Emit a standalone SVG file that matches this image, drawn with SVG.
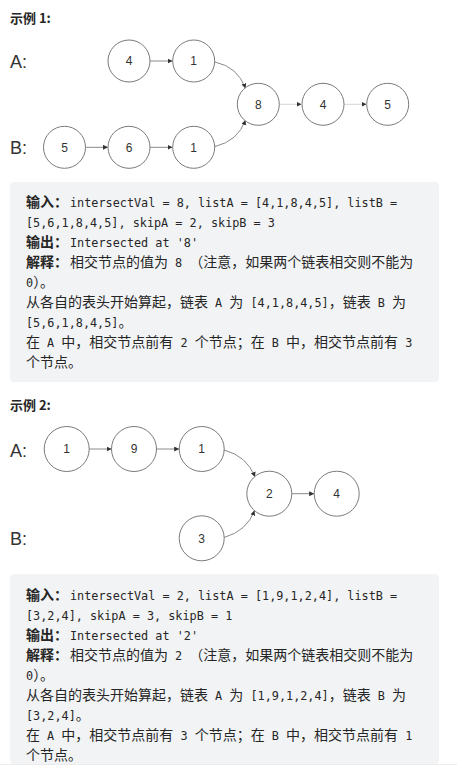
<svg xmlns="http://www.w3.org/2000/svg" width="457" height="774" viewBox="0 0 457 774">
<defs>
<style>
.bg{fill:#ffffff}
.box{fill:#f2f3f5}
.title{font-family:"Noto Sans CJK SC","Liberation Sans",sans-serif;font-size:13px;font-weight:bold;fill:#262626}
.lab{font-family:"Liberation Sans",Arial,sans-serif;font-size:18px;fill:#333333}
.node circle{fill:#ffffff;stroke:#7a7a7a;stroke-width:1}
.node text{font-family:"Liberation Sans",Arial,sans-serif;font-size:12px;fill:#333333;text-anchor:middle}
.edge{fill:none;stroke:#8a8a8a;stroke-width:1}
.faint{stroke:#d6d6d6}
.t{font-size:14px;fill:#262626;white-space:pre}
.c{font-family:"Noto Sans CJK SC","Liberation Sans",sans-serif;font-size:14px}
.b{font-family:"Noto Sans CJK SC","Liberation Sans",sans-serif;font-size:14px;font-weight:bold}
.m{font-family:"DejaVu Sans Mono","Liberation Mono",monospace;font-size:11.82px}
</style>
<marker id="ah" markerUnits="userSpaceOnUse" markerWidth="6" markerHeight="6" refX="5" refY="2.5" orient="auto">
<path d="M0,0 L5,2.5 L0,5 z" fill="#333333"/>
</marker>
</defs>
<rect class="bg" x="0" y="0" width="457" height="774"/>

<text class="title" x="10" y="22.5">示例 1:</text>
<text class="lab" x="10" y="67.7">A:</text>
<text class="lab" x="10" y="154.3">B:</text>

<g id="connectors1">
<line class="edge" x1="150" y1="61" x2="172.5" y2="61" marker-end="url(#ah)"/>
<line class="edge" x1="85.5" y1="147.3" x2="108" y2="147.3" marker-end="url(#ah)"/>
<line class="edge" x1="150" y1="147.3" x2="172.5" y2="147.3" marker-end="url(#ah)"/>
<line class="edge faint" x1="279.5" y1="104.3" x2="301.5" y2="104.3" marker-end="url(#ah)"/>
<line class="edge faint" x1="344" y1="104.3" x2="366.5" y2="104.3" marker-end="url(#ah)"/>
<path class="edge" d="M215,62 Q238,67 245.5,88.5" marker-end="url(#ah)"/>
<path class="edge" d="M215,146.5 Q238,141 245.5,120" marker-end="url(#ah)"/>
</g>

<g id="e1-a4" class="node"><circle cx="129" cy="61" r="21"/><text x="129" y="65.3">4</text></g>
<g id="e1-a1" class="node"><circle cx="193.7" cy="61" r="21"/><text x="193.7" y="65.3">1</text></g>
<g id="e1-c8" class="node"><circle cx="258.3" cy="104.3" r="21"/><text x="258.3" y="108.6">8</text></g>
<g id="e1-c4" class="node"><circle cx="323" cy="104.3" r="21"/><text x="323" y="108.6">4</text></g>
<g id="e1-c5" class="node"><circle cx="387.7" cy="104.3" r="21"/><text x="387.7" y="108.6">5</text></g>
<g id="e1-b5" class="node"><circle cx="64.5" cy="147.3" r="21"/><text x="64.5" y="151.6">5</text></g>
<g id="e1-b6" class="node"><circle cx="129" cy="147.3" r="21"/><text x="129" y="151.6">6</text></g>
<g id="e1-b1" class="node"><circle cx="193.7" cy="147.3" r="21"/><text x="193.7" y="151.6">1</text></g>

<g id="box1">
<rect class="box" x="10" y="182" width="429" height="200" rx="4"/>
<text class="t" x="26" y="207" xml:space="preserve"><tspan class="b">输入：</tspan><tspan class="m" x="70">intersectVal = 8, listA = [4,1,8,4,5], listB =</tspan></text>
<text class="t" x="26" y="227" xml:space="preserve"><tspan class="m">[5,6,1,8,4,5], skipA = 2, skipB = 3</tspan></text>
<text class="t" x="26" y="247" xml:space="preserve"><tspan class="b">输出：</tspan><tspan class="m" x="70">Intersected at '8'</tspan></text>
<text class="t" x="26" y="267" xml:space="preserve"><tspan class="b">解释：</tspan><tspan class="c" x="70">相交节点的值为</tspan><tspan class="m"> 8 </tspan><tspan class="c">（注意，如果两个链表相交则不能为</tspan></text>
<text class="t" x="26" y="287" xml:space="preserve"><tspan class="m">0</tspan><tspan class="c">）。</tspan></text>
<text class="t" x="26" y="307" xml:space="preserve"><tspan class="c">从各自的表头开始算起，链表</tspan><tspan class="m"> A </tspan><tspan class="c">为</tspan><tspan class="m"> [4,1,8,4,5]</tspan><tspan class="c">，链表</tspan><tspan class="m"> B </tspan><tspan class="c">为</tspan></text>
<text class="t" x="26" y="327" xml:space="preserve"><tspan class="m">[5,6,1,8,4,5]</tspan><tspan class="c">。</tspan></text>
<text class="t" x="26" y="347" xml:space="preserve"><tspan class="c">在</tspan><tspan class="m"> A </tspan><tspan class="c">中，相交节点前有</tspan><tspan class="m"> 2 </tspan><tspan class="c">个节点；在</tspan><tspan class="m"> B </tspan><tspan class="c">中，相交节点前有</tspan><tspan class="m"> 3</tspan></text>
<text class="t" x="26" y="367" xml:space="preserve"><tspan class="c">个节点。</tspan></text>
</g>

<text class="title" x="10" y="410">示例 2:</text>
<text class="lab" x="10" y="456.7">A:</text>
<text class="lab" x="10" y="545">B:</text>

<g id="connectors2">
<line class="edge" x1="89.3" y1="449" x2="111.5" y2="449" marker-end="url(#ah)"/>
<line class="edge" x1="156.5" y1="449" x2="179.2" y2="449" marker-end="url(#ah)"/>
<line class="edge" x1="291.8" y1="493.7" x2="314.2" y2="493.7" marker-end="url(#ah)"/>
<path class="edge" d="M224,450 Q247,456 255,477" marker-end="url(#ah)"/>
<path class="edge" d="M224,537.5 Q247,531 254.5,510.5" marker-end="url(#ah)"/>
</g>

<g id="e2-a1" class="node"><circle cx="66.7" cy="449" r="22.5"/><text x="66.7" y="453.3">1</text></g>
<g id="e2-a9" class="node"><circle cx="134" cy="449" r="22.5"/><text x="134" y="453.3">9</text></g>
<g id="e2-a1b" class="node"><circle cx="201.7" cy="449" r="22.5"/><text x="201.7" y="453.3">1</text></g>
<g id="e2-c2" class="node"><circle cx="269.3" cy="493.7" r="22.5"/><text x="269.3" y="498">2</text></g>
<g id="e2-c4" class="node"><circle cx="336.7" cy="493.7" r="22.5"/><text x="336.7" y="498">4</text></g>
<g id="e2-b3" class="node"><circle cx="201.7" cy="538.3" r="22.5"/><text x="201.7" y="542.6">3</text></g>

<g id="box2">
<rect class="box" x="10" y="574.3" width="429" height="190" rx="4"/>
<text class="t" x="26" y="599.5" xml:space="preserve"><tspan class="b">输入：</tspan><tspan class="m" x="70">intersectVal = 2, listA = [1,9,1,2,4], listB =</tspan></text>
<text class="t" x="26" y="619.5" xml:space="preserve"><tspan class="m">[3,2,4], skipA = 3, skipB = 1</tspan></text>
<text class="t" x="26" y="639.5" xml:space="preserve"><tspan class="b">输出：</tspan><tspan class="m" x="70">Intersected at '2'</tspan></text>
<text class="t" x="26" y="659.5" xml:space="preserve"><tspan class="b">解释：</tspan><tspan class="c" x="70">相交节点的值为</tspan><tspan class="m"> 2 </tspan><tspan class="c">（注意，如果两个链表相交则不能为</tspan></text>
<text class="t" x="26" y="679.5" xml:space="preserve"><tspan class="m">0</tspan><tspan class="c">）。</tspan></text>
<text class="t" x="26" y="699.5" xml:space="preserve"><tspan class="c">从各自的表头开始算起，链表</tspan><tspan class="m"> A </tspan><tspan class="c">为</tspan><tspan class="m"> [1,9,1,2,4]</tspan><tspan class="c">，链表</tspan><tspan class="m"> B </tspan><tspan class="c">为</tspan></text>
<text class="t" x="26" y="719.5" xml:space="preserve"><tspan class="m">[3,2,4]</tspan><tspan class="c">。</tspan></text>
<text class="t" x="26" y="739.5" xml:space="preserve"><tspan class="c">在</tspan><tspan class="m"> A </tspan><tspan class="c">中，相交节点前有</tspan><tspan class="m"> 3 </tspan><tspan class="c">个节点；在</tspan><tspan class="m"> B </tspan><tspan class="c">中，相交节点前有</tspan><tspan class="m"> 1</tspan></text>
<text class="t" x="26" y="759.5" xml:space="preserve"><tspan class="c">个节点。</tspan></text>
</g>
<line x1="0" y1="764.5" x2="457" y2="764.5" stroke="#ececec" stroke-width="1"/>
</svg>
